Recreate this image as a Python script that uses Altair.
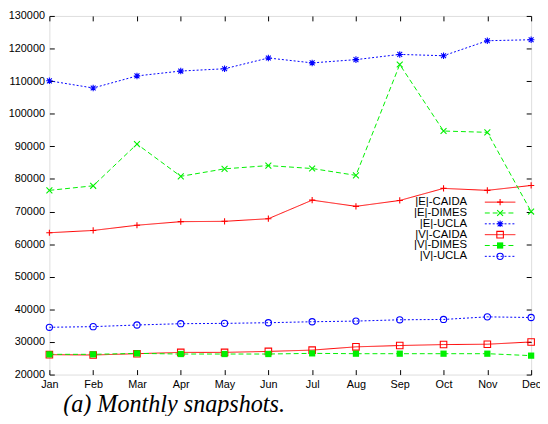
import altair as alt
import pandas as pd

months = ["Jan", "Feb", "Mar", "Apr", "May", "Jun", "Jul", "Aug", "Sep", "Oct", "Nov", "Dec"]
series_names = ["|E|-CAIDA", "|E|-DIMES", "|E|-UCLA", "|V|-CAIDA", "|V|-DIMES", "|V|-UCLA"]
e_caida = [63500, 64200, 65800, 66900, 67000, 67800, 73500, 71600, 73400, 77100, 76500, 78000]
e_dimes = [76500, 77900, 90700, 80800, 83100, 84100, 83200, 81100, 115100, 94700, 94300, 70000]
e_ucla = [110100, 107900, 111600, 113100, 113800, 117100, 115600, 116600, 118200, 117800, 122400, 122700]
v_caida = [26100, 26000, 26400, 26800, 26800, 27100, 27500, 28500, 28900, 29200, 29300, 30000]
v_dimes = [26200, 26200, 26500, 26300, 26300, 26300, 26500, 26400, 26400, 26400, 26400, 25800]
v_ucla = [34500, 34700, 35200, 35600, 35700, 35900, 36200, 36400, 36800, 36900, 37700, 37500]
y_ticks = [20000, 30000, 40000, 50000, 60000, 70000, 80000, 90000, 100000, 110000, 120000, 130000]
caption = "(a) Monthly snapshots."

all_values = [e_caida, e_dimes, e_ucla, v_caida, v_dimes, v_ucla]

RED, GREEN, BLUE = "#ff0000", "#00f000", "#0000ff"
PLUS = "M-1,0L1,0M0,-1L0,1"
CROSS = "M-1,-1L1,1M-1,1L1,-1"
STAR = "M-1,0L1,0M0,-1L0,1M-0.75,-0.75L0.75,0.75M-0.75,0.75L0.75,-0.75"
styles = [
    dict(color=RED, dash=[1, 0], shape=PLUS, filled=False, size=40),
    dict(color=GREEN, dash=[5, 3], shape=CROSS, filled=False, size=36),
    dict(color=BLUE, dash=[2, 2], shape=STAR, filled=False, size=44),
    dict(color=RED, dash=[1, 0], shape="square", filled=False, size=44),
    dict(color=GREEN, dash=[5, 3], shape="square", filled=True, size=40),
    dict(color=BLUE, dash=[2, 2], shape="circle", filled=False, size=40),
]

FONT = "Liberation Sans"
scale_x = alt.Scale(domain=months, padding=0)
scale_y = alt.Scale(domain=[20000, 130000], nice=False, zero=False)

common = dict(domain=False, grid=False, title=None)
main_x = alt.Axis(orient="bottom", labelAngle=0, ticks=False, labelPadding=4,
                  labelFont=FONT, labelFontSize=11, labelColor="black", **common)
main_y = alt.Axis(orient="left", values=y_ticks, format="d", ticks=False, labelPadding=5,
                  labelFont=FONT, labelFontSize=11, labelColor="black", **common)
tick_b = alt.Axis(orient="bottom", offset=-5, tickSize=5, labels=False, tickColor="black", **common)
tick_t = alt.Axis(orient="top", offset=-5, tickSize=5, labels=False, tickColor="black", **common)
tick_l = alt.Axis(orient="left", values=y_ticks, offset=-5, tickSize=5, labels=False, tickColor="black", **common)
tick_r = alt.Axis(orient="right", values=y_ticks, offset=-5, tickSize=5, labels=False, tickColor="black", **common)

axis_pairs = {0: (main_x, main_y), 1: (tick_b, tick_l), 2: (tick_t, tick_r)}

layers = []
k = 0
for name, vals, st in zip(series_names, all_values, styles):
    df = pd.DataFrame({"month": months, "value": vals, "series": name})
    ax, ay = axis_pairs.get(k, (None, None))
    k += 1
    line = alt.Chart(df).mark_line(color=st["color"], strokeDash=st["dash"], strokeWidth=1).encode(
        x=alt.X("month:N", sort=months, scale=scale_x, axis=ax, title=None),
        y=alt.Y("value:Q", scale=scale_y, axis=ay, title=None),
    )
    ax, ay = axis_pairs.get(k, (None, None))
    k += 1
    pts = alt.Chart(df).mark_point(shape=st["shape"], filled=st["filled"], size=st["size"],
                                   color=st["color"], strokeWidth=1.1, opacity=1).encode(
        x=alt.X("month:N", sort=months, scale=scale_x, axis=ax, title=None),
        y=alt.Y("value:Q", scale=scale_y, axis=ay, title=None),
    )
    layers += [line, pts]

# manual legend
for i, (name, st) in enumerate(zip(series_names, styles)):
    ly = 189 + 11 * i
    ldf = pd.DataFrame({"label": [name]})
    txt = alt.Chart(ldf).mark_text(align="right", baseline="middle", font=FONT, fontSize=11.5,
                                   color="black").encode(
        text="label:N", x=alt.value(424), y=alt.value(ly))
    rl = alt.Chart(ldf).mark_rule(color=st["color"], strokeDash=st["dash"], strokeWidth=1).encode(
        x=alt.value(442), x2=alt.value(473), y=alt.value(ly))
    pt = alt.Chart(ldf).mark_point(shape=st["shape"], filled=st["filled"], size=st["size"],
                                   color=st["color"], strokeWidth=1.1, opacity=1).encode(
        x=alt.value(457.5), y=alt.value(ly))
    layers += [rl, pt, txt]

cap = alt.Chart(pd.DataFrame({"t": [caption]})).mark_text(
    align="left", baseline="middle", font="Liberation Serif", fontStyle="italic",
    fontSize=24.5, color="black").encode(text="t:N", x=alt.value(14), y=alt.value(395))
layers.append(cap)

chart = alt.layer(*layers).resolve_axis(x="independent", y="independent").properties(
    width=489, height=364,
    autosize=alt.AutoSizeParams(type="none"),
    padding={"left": 42, "top": 5, "right": 9, "bottom": 39},
).configure_view(stroke="black", strokeWidth=1.2).configure(background="white")

chart.save("out.html", embed_options={"renderer": "svg", "actions": False})
